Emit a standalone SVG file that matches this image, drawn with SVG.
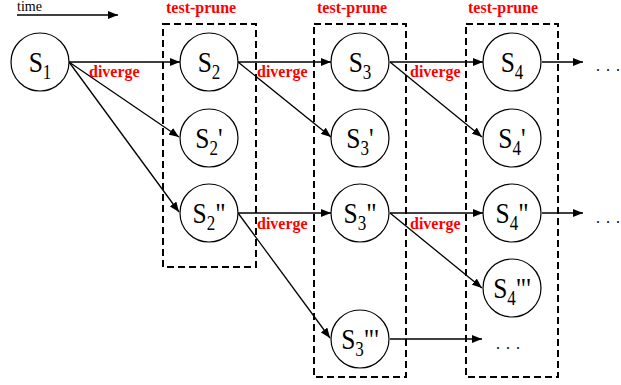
<svg xmlns="http://www.w3.org/2000/svg" width="621" height="385" viewBox="0 0 621 385">
<style>
.n{fill:#fff;stroke:#000;stroke-width:1.2}
.l{font-family:"Liberation Serif","Times New Roman",serif;font-size:30px;fill:#000;text-anchor:middle}
.sub{font-size:20px}
.c line{stroke:#000;stroke-width:1.3}
.box{fill:none;stroke:#000;stroke-width:2;stroke-dasharray:7 4}
.r{font-family:"Liberation Serif","Times New Roman",serif;font-weight:bold;font-size:16px;fill:#ff0000}
.t{font-family:"Liberation Serif","Times New Roman",serif;font-size:14px;fill:#000}
.d{font-family:"Liberation Serif","Times New Roman",serif;font-size:16px;fill:#000}
</style>
<defs>
<marker id="ah" markerUnits="userSpaceOnUse" markerWidth="10" markerHeight="8" refX="10" refY="4" orient="auto">
<path d="M0,0 L10,4 L0,8 z" fill="#000"/>
</marker>
</defs>
<g id="boxes">
<rect class="box" x="163" y="24" width="93" height="243"/>
<rect class="box" x="314" y="24" width="92" height="353"/>
<rect class="box" x="466" y="24" width="92" height="353"/>
<text class="r" x="166" y="13">test-prune</text>
<text class="r" x="317" y="13">test-prune</text>
<text class="r" x="468" y="13">test-prune</text>
</g>
<g id="time">
<text class="t" x="17" y="11">time</text>
</g>
<g class="c" id="connectors">
<line x1="17" y1="15" x2="118" y2="15" marker-end="url(#ah)"/>
<line x1="69" y1="62" x2="180" y2="62" marker-end="url(#ah)"/>
<line x1="69" y1="62" x2="179" y2="137" marker-end="url(#ah)"/>
<line x1="69" y1="62" x2="179" y2="212" marker-end="url(#ah)"/>
<line x1="238" y1="62" x2="331" y2="62" marker-end="url(#ah)"/>
<line x1="238" y1="62" x2="331" y2="137" marker-end="url(#ah)"/>
<line x1="238" y1="213" x2="331" y2="213" marker-end="url(#ah)"/>
<line x1="238" y1="213" x2="330" y2="338" marker-end="url(#ah)"/>
<line x1="390" y1="62" x2="483" y2="62" marker-end="url(#ah)"/>
<line x1="390" y1="62" x2="482" y2="137" marker-end="url(#ah)"/>
<line x1="390" y1="213" x2="483" y2="213" marker-end="url(#ah)"/>
<line x1="390" y1="213" x2="482" y2="288" marker-end="url(#ah)"/>
<line x1="390" y1="339" x2="482" y2="339" marker-end="url(#ah)"/>
<line x1="542" y1="62" x2="583" y2="62" marker-end="url(#ah)"/>
<line x1="542" y1="213" x2="583" y2="213" marker-end="url(#ah)"/>
</g>
<g id="labels">
<text class="r" x="89" y="77">diverge</text>
<text class="r" x="257" y="77">diverge</text>
<text class="r" x="410" y="77">diverge</text>
<text class="r" x="257" y="229">diverge</text>
<text class="r" x="410" y="229">diverge</text>
<text class="d" x="596" y="71">.<tspan dx="6">.</tspan><tspan dx="6">.</tspan></text>
<text class="d" x="596" y="223">.<tspan dx="6">.</tspan><tspan dx="6">.</tspan></text>
<text class="d" x="496" y="349">.<tspan dx="6">.</tspan><tspan dx="6">.</tspan></text>
</g>
<g id="S1"><circle class="n" cx="40" cy="62" r="29"/><text class="l" transform="translate(40,72) scale(0.85,1)">S<tspan class="sub" dy="7">1</tspan></text></g>
<g id="S2"><circle class="n" cx="209" cy="62" r="29"/><text class="l" transform="translate(209,72) scale(0.85,1)">S<tspan class="sub" dy="7">2</tspan></text></g>
<g id="S2p"><circle class="n" cx="209" cy="138" r="29"/><text class="l" transform="translate(209,148) scale(0.85,1)">S<tspan class="sub" dy="7">2</tspan><tspan dy="-7">'</tspan></text></g>
<g id="S2pp"><circle class="n" cx="209" cy="213" r="29"/><text class="l" transform="translate(209,223) scale(0.85,1)">S<tspan class="sub" dy="7">2</tspan><tspan dy="-7">"</tspan></text></g>
<g id="S3"><circle class="n" cx="360" cy="62" r="29"/><text class="l" transform="translate(360,72) scale(0.85,1)">S<tspan class="sub" dy="7">3</tspan></text></g>
<g id="S3p"><circle class="n" cx="360" cy="138" r="29"/><text class="l" transform="translate(360,148) scale(0.85,1)">S<tspan class="sub" dy="7">3</tspan><tspan dy="-7">'</tspan></text></g>
<g id="S3pp"><circle class="n" cx="360" cy="213" r="29"/><text class="l" transform="translate(360,223) scale(0.85,1)">S<tspan class="sub" dy="7">3</tspan><tspan dy="-7">"</tspan></text></g>
<g id="S3ppp"><circle class="n" cx="360" cy="339" r="29"/><text class="l" transform="translate(360,349) scale(0.85,1)">S<tspan class="sub" dy="7">3</tspan><tspan dy="-7">"'</tspan></text></g>
<g id="S4"><circle class="n" cx="512" cy="62" r="29"/><text class="l" transform="translate(512,72) scale(0.85,1)">S<tspan class="sub" dy="7">4</tspan></text></g>
<g id="S4p"><circle class="n" cx="512" cy="138" r="29"/><text class="l" transform="translate(512,148) scale(0.85,1)">S<tspan class="sub" dy="7">4</tspan><tspan dy="-7">'</tspan></text></g>
<g id="S4pp"><circle class="n" cx="512" cy="213" r="29"/><text class="l" transform="translate(512,223) scale(0.85,1)">S<tspan class="sub" dy="7">4</tspan><tspan dy="-7">"</tspan></text></g>
<g id="S4ppp"><circle class="n" cx="512" cy="288" r="29"/><text class="l" transform="translate(512,298) scale(0.85,1)">S<tspan class="sub" dy="7">4</tspan><tspan dy="-7">"'</tspan></text></g>
</svg>
